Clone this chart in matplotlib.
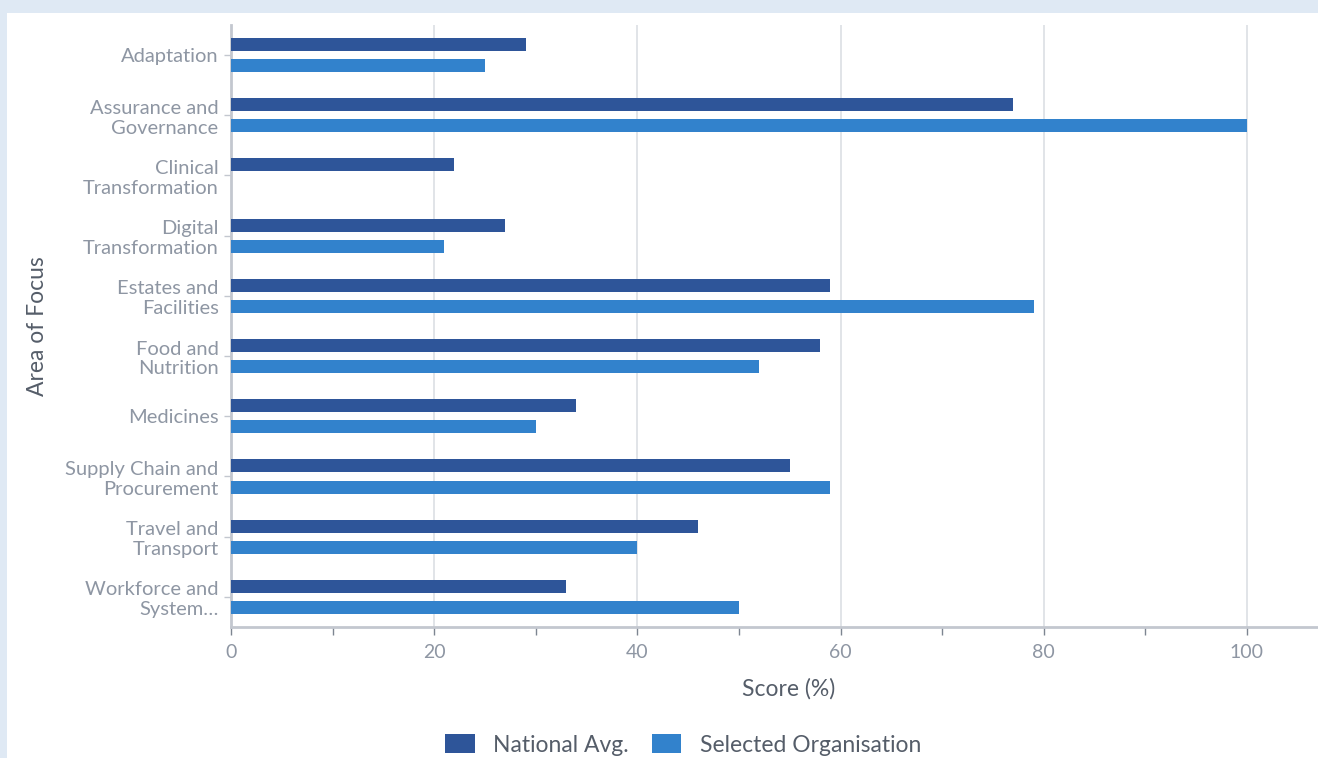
import numpy as np
import matplotlib
matplotlib.use("Agg")
import matplotlib.pyplot as plt
from matplotlib.patches import Rectangle
from matplotlib.ticker import MultipleLocator

categories = [
    "Adaptation",
    "Assurance and\nGovernance",
    "Clinical\nTransformation",
    "Digital\nTransformation",
    "Estates and\nFacilities",
    "Food and\nNutrition",
    "Medicines",
    "Supply Chain and\nProcurement",
    "Travel and\nTransport",
    "Workforce and\nSystem\u2026",
]
national_avg = [29, 77, 22, 27, 59, 58, 34, 55, 46, 33]
selected_org = [25, 100, 0, 21, 79, 52, 30, 59, 40, 50]

DARK = "#2e5599"
LIGHT = "#3282cc"
TEXT = "#8e96a3"
AXIS = "#c3c7cf"

plt.rcParams["font.family"] = ["Lato", "DejaVu Sans"]

fig = plt.figure(figsize=(13.18, 7.58), dpi=100)
fig.patch.set_facecolor("#dfe9f4")
fig.patches.append(Rectangle((7 / 1318, 0), 1, 1 - 13 / 758, transform=fig.transFigure,
                             facecolor="white", edgecolor="none", zorder=-10))

ax = fig.add_axes([231 / 1318, 131 / 758, 1 - 231 / 1318, (627 - 25) / 758])
ax.set_facecolor("none")

y = np.arange(len(categories))
h = 0.215
ax.barh(y - 0.175, national_avg, height=h, color=DARK, label="National Avg.", zorder=3)
ax.barh(y + 0.175, selected_org, height=h, color=LIGHT, label="Selected Organisation", zorder=3)

ax.set_ylim(len(categories) - 0.5, -0.5)
ax.set_xlim(0, 107)
ax.set_yticks(y)
ax.set_yticklabels(categories, fontsize=14.5, color=TEXT, linespacing=1.2)
ax.xaxis.set_major_locator(MultipleLocator(20))
ax.xaxis.set_minor_locator(MultipleLocator(10))
ax.tick_params(axis="x", which="major", labelsize=14, labelcolor=TEXT, color="#7d8591",
               length=6, width=1, pad=6)
ax.tick_params(axis="x", which="minor", color="#7d8591", length=6, width=1)
ax.tick_params(axis="y", labelcolor=TEXT, color=AXIS, length=5, width=1, pad=4)
ax.grid(axis="x", which="major", color="#dcdfe4", linewidth=1.2, zorder=0)

for s in ["top", "right"]:
    ax.spines[s].set_visible(False)
for s in ["left", "bottom"]:
    ax.spines[s].set_color(AXIS)
    ax.spines[s].set_linewidth(2)

ax.set_xlabel("Score (%)", fontsize=16.5, color="#555d69")
ax.set_ylabel("Area of Focus", fontsize=16.5, color="#555d69")
ax.xaxis.set_label_coords(0.513, -0.085)
ax.yaxis.set_label_coords(-0.168, 0.5)

leg = fig.legend(loc="center", bbox_to_anchor=(683 / 1318, 13 / 758), ncol=2, frameon=False,
                 fontsize=16.5, handlelength=1.3, handleheight=0.9, columnspacing=1.0,
                 handletextpad=0.8)
for t in leg.get_texts():
    t.set_color("#555d69")

fig.savefig("out.png", dpi=100, facecolor=fig.get_facecolor())
